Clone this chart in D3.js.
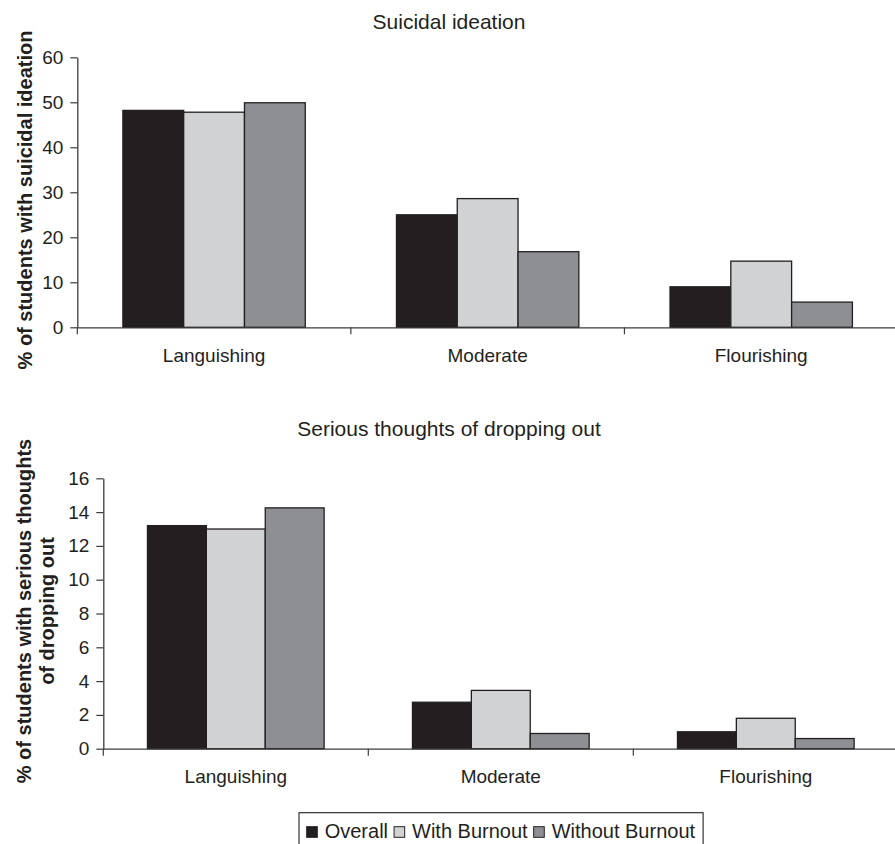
<!DOCTYPE html>
<html>
<head>
<meta charset="utf-8">
<script src="https://cdn.jsdelivr.net/npm/d3@7"></script>
<style>
  html, body { margin: 0; padding: 0; background: #fff; }
  svg { display: block; font-family: "Liberation Sans", Arial, Helvetica, sans-serif; }
</style>
</head>
<body>
<svg id="chart" width="895" height="844"></svg>
<script>
// ---- Data ----
const categories = ["Languishing", "Moderate", "Flourishing"];
const seriesNames = ["Overall", "With Burnout", "Without Burnout"];
const seriesColors = ["#231f20", "#d1d2d4", "#8e8f93"];

const suicidalOverall = [48.2, 25.0, 9.0];
const suicidalWithBurnout = [47.8, 28.6, 14.7];
const suicidalWithoutBurnout = [49.9, 16.8, 5.6];
const suicidalTicks = [0, 10, 20, 30, 40, 50, 60];

const dropoutOverall = [13.2, 2.75, 1.0];
const dropoutWithBurnout = [13.0, 3.45, 1.8];
const dropoutWithoutBurnout = [14.25, 0.9, 0.6];
const dropoutTicks = [0, 2, 4, 6, 8, 10, 12, 14, 16];

const panelTitles = ["Suicidal ideation", "Serious thoughts of dropping out"];
const yLabels = [["% of students with suicidal ideation"],
                 ["% of students with serious thoughts", "of dropping out"]];

// ---- Layout ----
const svg = d3.select("#chart");
const ink = "#231f20";
const axisColor = "#3c3c3c";

const panels = [
  { title: panelTitles[0], titleY: 29, ylab: yLabels[0], ylabX: 31.5, ylabCY: 200,
    x: [77.3, 898], y: [327.3, 57.3], max: 60, ticks: suicidalTicks,
    series: [suicidalOverall, suicidalWithBurnout, suicidalWithoutBurnout] },
  { title: panelTitles[1], titleY: 436, ylab: yLabels[1], ylabX: 31, ylabCY: 611,
    x: [103.3, 898.3], y: [748.7, 478.3], max: 16, ticks: dropoutTicks,
    series: [dropoutOverall, dropoutWithBurnout, dropoutWithoutBurnout] }
];

panels.forEach(p => {
  const g = svg.append("g");
  const x0 = d3.scaleBand().domain(categories).range(p.x).padding(0);
  const bw = x0.bandwidth();
  const x1 = d3.scaleBand().domain(seriesNames).range([bw / 6, bw * 5 / 6]).padding(0);
  const y = d3.scaleLinear().domain([0, p.max]).range(p.y);

  // title
  g.append("text").attr("x", 449).attr("y", p.titleY)
    .attr("text-anchor", "middle").attr("font-size", 21).attr("fill", ink)
    .text(p.title);

  // y label
  const yl = g.append("text")
    .attr("transform", `translate(${p.ylabX},${p.ylabCY}) rotate(-90)`)
    .attr("text-anchor", "middle").attr("font-size", 20).attr("font-weight", "bold")
    .attr("fill", ink);
  p.ylab.forEach((line, i) => {
    yl.append("tspan").attr("x", 0).attr("y", i * 23).text(line);
  });

  // bars
  const rows = categories.map((c, ci) => ({ c, vals: seriesNames.map((s, si) => ({ s, si, v: p.series[si][ci] })) }));
  const grp = g.selectAll(".grp").data(rows).join("g")
    .attr("transform", d => `translate(${x0(d.c)},0)`);
  grp.selectAll("rect").data(d => d.vals).join("rect")
    .attr("x", d => x1(d.s))
    .attr("y", d => y(d.v))
    .attr("width", x1.bandwidth())
    .attr("height", d => y(0) - y(d.v))
    .attr("fill", d => seriesColors[d.si])
    .attr("stroke", ink).attr("stroke-width", 1.3);

  // y axis
  const ya = g.append("g").attr("transform", `translate(${p.x[0]},0)`)
    .call(d3.axisLeft(y).tickValues(p.ticks).tickSize(7).tickSizeOuter(0).tickPadding(7));
  ya.select(".domain").attr("stroke", axisColor).attr("stroke-width", 1.3);
  ya.selectAll(".tick line").attr("stroke", axisColor).attr("stroke-width", 1.2);
  ya.selectAll(".tick text").attr("font-size", 19).attr("fill", ink)
    .attr("font-family", "Liberation Sans, Arial, sans-serif");

  // x axis: baseline, boundary ticks, category labels
  const xa = g.append("g").attr("transform", `translate(0,${y(0)})`)
    .call(d3.axisBottom(x0).tickSize(0).tickSizeOuter(0).tickPadding(21));
  xa.select(".domain").attr("stroke", axisColor).attr("stroke-width", 1.3);
  xa.selectAll(".tick text").attr("font-size", 19).attr("fill", ink)
    .attr("font-family", "Liberation Sans, Arial, sans-serif");
  const bounds = categories.map(c => x0(c));
  xa.selectAll(".bound").data(bounds).join("line").attr("class", "bound")
    .attr("x1", d => d).attr("x2", d => d).attr("y1", 0).attr("y2", 7)
    .attr("stroke", axisColor).attr("stroke-width", 1.2);
});

// ---- Legend ----
const lg = svg.append("g");
const legendLeft = 299, legendTop = 812.7, baseline = 837.7;
const box = lg.append("rect").attr("x", legendLeft).attr("y", legendTop)
  .attr("height", 40).attr("fill", "#fff").attr("stroke", ink).attr("stroke-width", 1.1);
let cx = legendLeft + 7.7;
seriesNames.forEach((s, i) => {
  lg.append("rect").attr("x", cx).attr("y", baseline - 11).attr("width", 10.6).attr("height", 10.6)
    .attr("fill", seriesColors[i]).attr("stroke", ink).attr("stroke-width", 1);
  cx += 10.6 + 7.4;
  const t = lg.append("text").attr("x", cx).attr("y", baseline)
    .attr("font-size", 20).attr("fill", ink).text(s);
  cx += t.node().getComputedTextLength() + 6;
});
box.attr("width", cx - legendLeft + 2);
</script>
</body>
</html>
